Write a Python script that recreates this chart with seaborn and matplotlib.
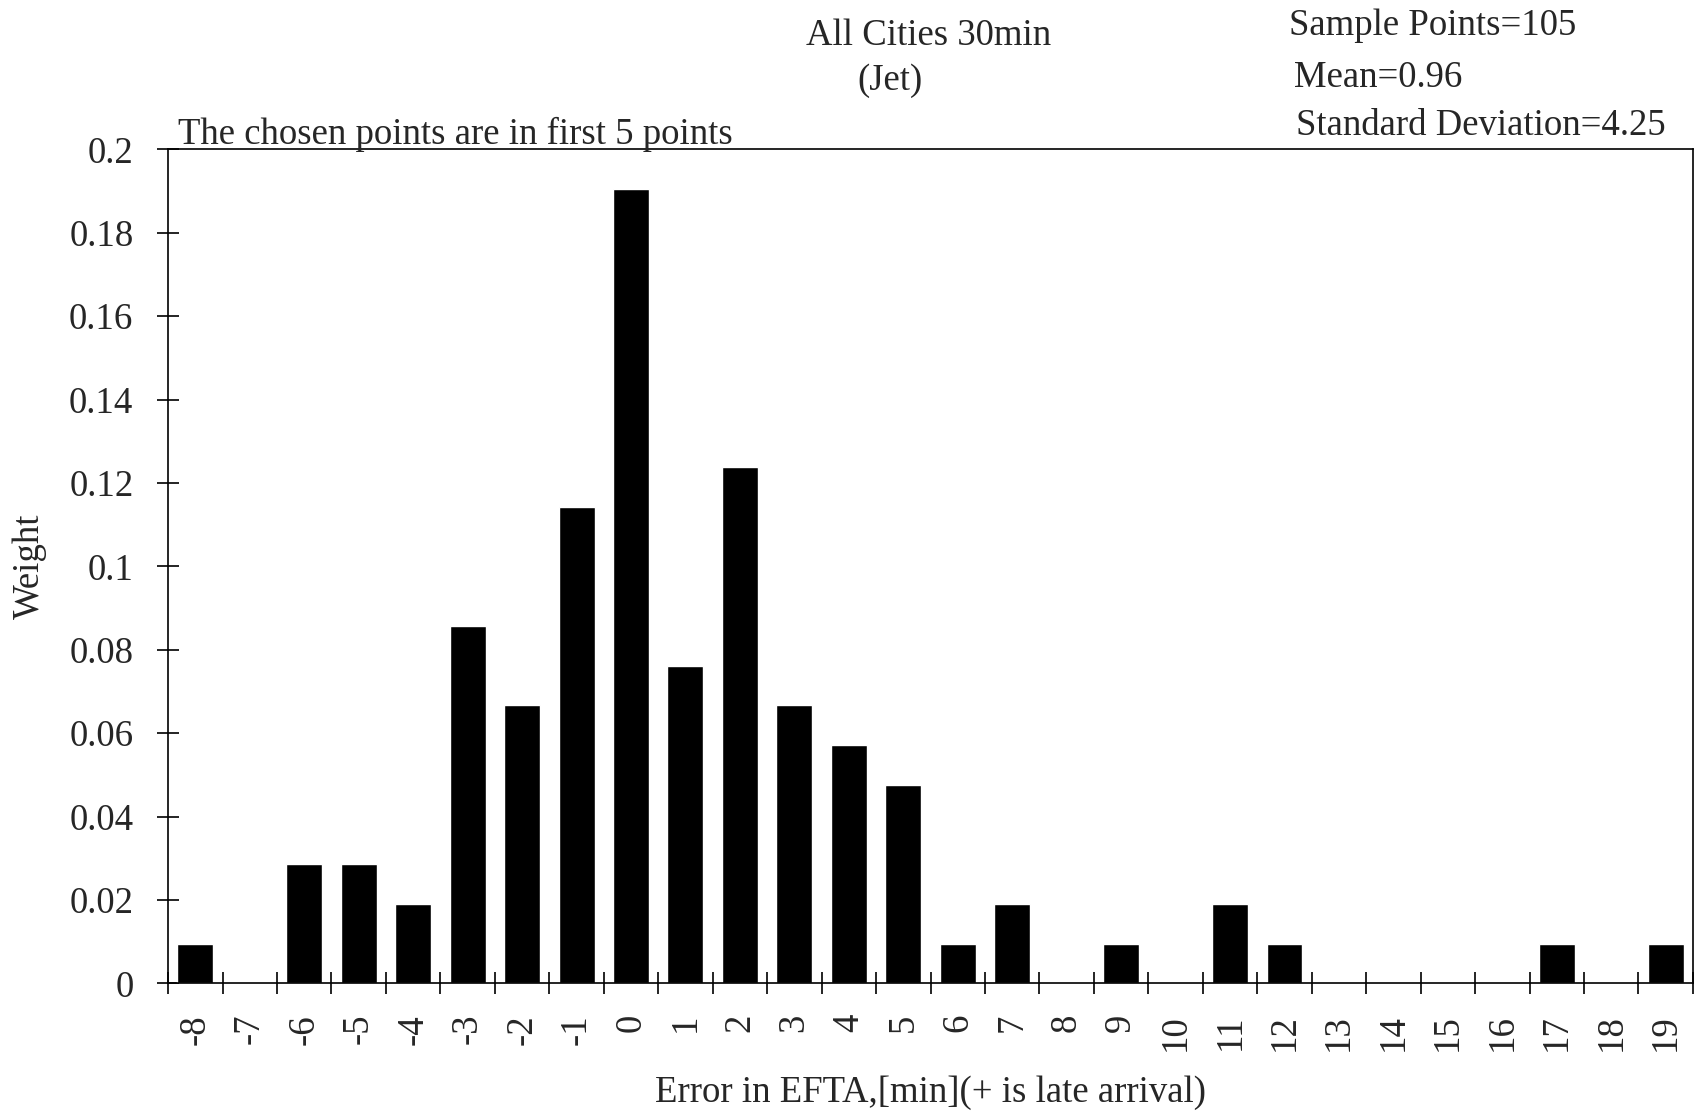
import pandas as pd
import matplotlib.pyplot as plt
import seaborn as sns
from matplotlib.ticker import FixedLocator

# Error in EFTA (min) and weight of each bin
errors = [-8, -7, -6, -5, -4, -3, -2, -1, 0, 1, 2, 3, 4, 5,
          6, 7, 8, 9, 10, 11, 12, 13, 14, 15, 16, 17, 18, 19]
weights = [0.0095, 0.0, 0.0286, 0.0286, 0.019, 0.0857, 0.0667, 0.1143,
           0.1905, 0.0762, 0.1238, 0.0667, 0.0571, 0.0476, 0.0095, 0.019,
           0.0, 0.0095, 0.0, 0.019, 0.0095, 0.0, 0.0, 0.0, 0.0, 0.0095,
           0.0, 0.0095]
y_ticks = [0, 0.02, 0.04, 0.06, 0.08, 0.1, 0.12, 0.14, 0.16, 0.18, 0.2]
y_labels = ['0', '0.02', '0.04', '0.06', '0.08', '0.1', '0.12', '0.14',
            '0.16', '0.18', '0.2']

df = pd.DataFrame({'Error': [str(e) for e in errors], 'Weight': weights})

sns.set_style("white")
plt.rcParams['font.family'] = ['Liberation Serif', 'DejaVu Serif']
FS = 26.5

fig = plt.figure(figsize=(16.98, 11.15), dpi=100)
ax = fig.add_axes([0.099, 0.118, 0.898, 0.748])

sns.barplot(x='Error', y='Weight', data=df, color='black', width=0.66,
            order=[str(e) for e in errors], ax=ax, saturation=1)

n = len(errors)
ax.set_xlim(-0.5, n - 0.5)
ax.set_ylim(0, 0.2)
ax.set_yticks(y_ticks)
ax.set_yticklabels(y_labels, fontsize=FS)
ax.set_xticks(range(n))
ax.set_xticklabels([str(e) for e in errors], rotation=90, fontsize=FS)
# tick marks sit between the bars
ax.xaxis.set_minor_locator(FixedLocator([i - 0.5 for i in range(n + 1)]))
ax.tick_params(axis='x', which='major', bottom=True, length=0, pad=22)
ax.tick_params(axis='x', which='minor', bottom=True, direction='inout',
               length=16, width=1.2, color='black')
ax.tick_params(axis='y', which='major', left=True, direction='inout',
               length=16, width=1.2, color='black', pad=17)

for side in ['left', 'bottom', 'right', 'top']:
    ax.spines[side].set_visible(True)
    ax.spines[side].set_color('black')
    ax.spines[side].set_linewidth(1.2)

ax.set_xlabel('Error in EFTA,[min](+ is late arrival)', fontsize=FS, va='center')
ax.set_ylabel('Weight', fontsize=FS, va='center')
ax.xaxis.set_label_coords(0.500, -0.131)
ax.yaxis.set_label_coords(-0.0905, 0.5)

fig.text(0.547, 0.968, 'All Cities 30min', fontsize=FS, ha='center', va='center')
fig.text(0.524, 0.928, '(Jet)', fontsize=FS, ha='center', va='center')
fig.text(0.105, 0.879, 'The chosen points are in first 5 points', fontsize=FS,
         ha='left', va='center')
fig.text(0.759, 0.977, 'Sample Points=105', fontsize=FS, ha='left', va='center')
fig.text(0.762, 0.930, 'Mean=0.96', fontsize=FS, ha='left', va='center')
fig.text(0.763, 0.887, 'Standard Deviation=4.25', fontsize=FS, ha='left', va='center')

fig.savefig('out.png', dpi=100)
